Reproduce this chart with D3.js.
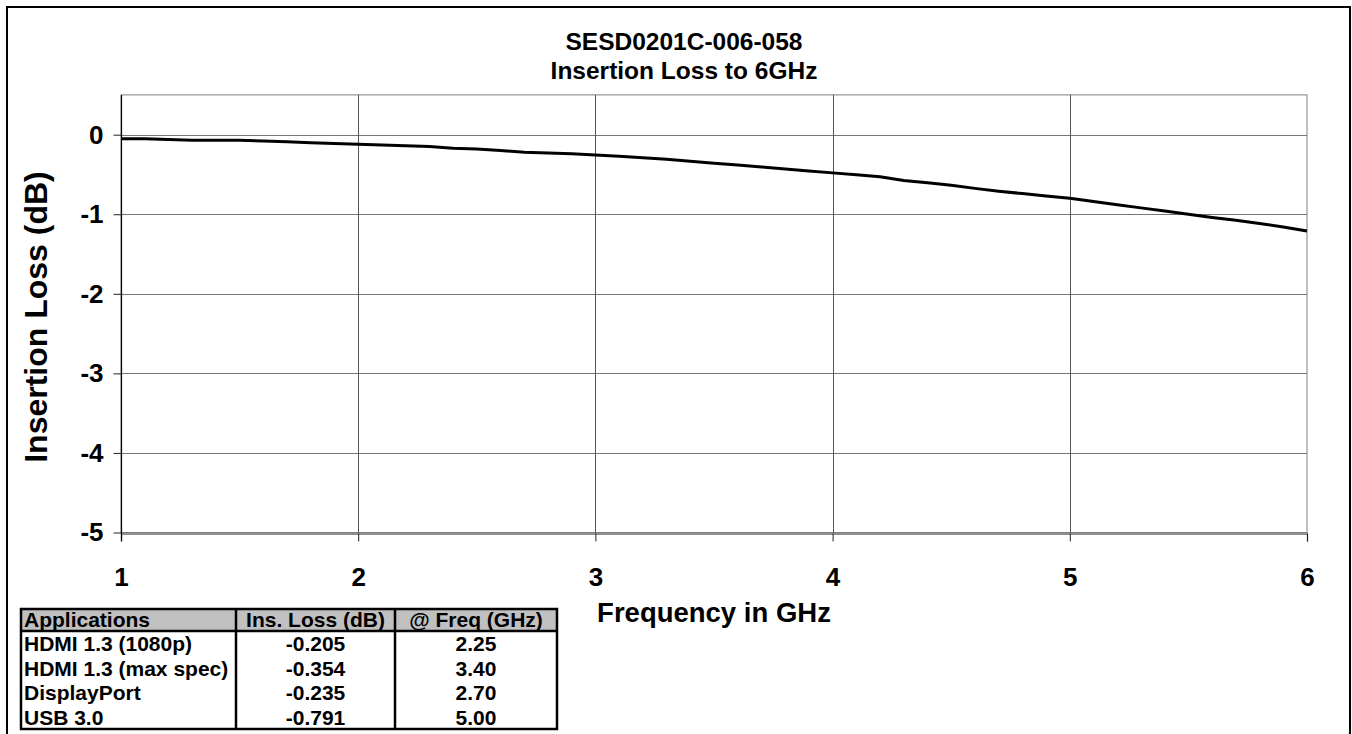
<!DOCTYPE html>
<html><head><meta charset="utf-8">
<script src="https://cdn.jsdelivr.net/npm/d3@7"></script>
<style>html,body{margin:0;padding:0;background:#fff;}svg{display:block;font-family:"Liberation Sans",Arial,sans-serif;}</style>
</head><body>
<svg id="chart" width="1352" height="734"></svg>
<script>
const titleLines = ["SESD0201C-006-058", "Insertion Loss to 6GHz"];
const xTicks = [1, 2, 3, 4, 5, 6];
const yTicks = [0, -1, -2, -3, -4, -5];
const freqGHz = [1.0,1.1,1.2,1.3,1.4,1.5,1.6,1.7,1.8,1.9,2.0,2.1,2.2,2.3,2.4,2.5,2.6,2.7,2.8,2.9,3.0,3.1,3.2,3.3,3.4,3.5,3.6,3.7,3.8,3.9,4.0,4.1,4.2,4.3,4.4,4.5,4.6,4.7,4.8,4.9,5.0,5.1,5.2,5.3,5.4,5.5,5.6,5.7,5.8,5.9,6.0];
const lossDB = [-0.05,-0.05,-0.06,-0.07,-0.07,-0.07,-0.08,-0.09,-0.10,-0.11,-0.12,-0.13,-0.14,-0.15,-0.17,-0.18,-0.20,-0.22,-0.23,-0.24,-0.255,-0.27,-0.29,-0.31,-0.335,-0.36,-0.38,-0.405,-0.43,-0.455,-0.48,-0.505,-0.53,-0.575,-0.605,-0.635,-0.675,-0.71,-0.74,-0.77,-0.80,-0.84,-0.88,-0.92,-0.96,-1.00,-1.04,-1.075,-1.115,-1.16,-1.21];
const tableHeader = ["Applications", "Ins. Loss (dB)", "@ Freq (GHz)"];
const tableApps = ["HDMI 1.3 (1080p)", "HDMI 1.3 (max spec)", "DisplayPort", "USB 3.0"];
const tableLoss = ["-0.205", "-0.354", "-0.235", "-0.791"];
const tableFreq = ["2.25", "3.40", "2.70", "5.00"];

const svg = d3.select("#chart");
// outer frame
svg.append("rect").attr("x", 7).attr("y", 7).attr("width", 1343).attr("height", 740)
  .attr("fill", "none").attr("stroke", "#000").attr("stroke-width", 2);

const x = d3.scaleLinear().domain([1, 6]).range([121, 1307]);
const y = d3.scaleLinear().domain([-5, 0.5]).range([532.5, 94.9]);

// plot area border
svg.append("rect").attr("x", x(1)).attr("y", y(0.5)).attr("width", x(6) - x(1)).attr("height", y(-5) - y(0.5))
  .attr("fill", "none").attr("stroke", "#808080").attr("stroke-width", 1);

// gridlines
const g = svg.append("g");
g.selectAll("line.h").data(yTicks.filter(d => d > -5)).join("line")
  .attr("x1", x(1)).attr("x2", x(6)).attr("y1", d => Math.round(y(d)) + 0.5).attr("y2", d => Math.round(y(d)) + 0.5)
  .attr("stroke", "#777").attr("stroke-width", 1);
g.selectAll("line.v").data(xTicks.filter(d => d > 1 && d < 6)).join("line")
  .attr("x1", d => Math.round(x(d)) + 0.5).attr("x2", d => Math.round(x(d)) + 0.5).attr("y1", y(0.5)).attr("y2", y(-5))
  .attr("stroke", "#555").attr("stroke-width", 1);

// axes
const tickFont = 26;
const xAxis = d3.axisBottom(x).tickValues(xTicks).tickSize(8).tickFormat(d3.format("d"));
const xg = svg.append("g").attr("transform", `translate(0,${Math.round(y(-5)) + 0.5})`).call(xAxis);
xg.select(".domain").attr("stroke", "#222").attr("stroke-width", 1.2);
xg.selectAll(".tick line").attr("stroke", "#222");
xg.selectAll(".tick text").attr("font-size", tickFont).attr("font-weight", "bold").attr("fill", "#000")
  .attr("font-family", "Liberation Sans, Arial, sans-serif").attr("y", 34).attr("dy", "0.71em");

const yAxis = d3.axisLeft(y).tickValues(yTicks).tickSize(8).tickFormat(d3.format("d"));
const yg = svg.append("g").attr("transform", `translate(${Math.round(x(1)) + 0.5},0)`).call(yAxis);
yg.select(".domain").attr("d", `M0,${y(0.5)}V${y(-5) + 8}`).attr("stroke", "#000").attr("stroke-width", 1.2);
yg.selectAll(".tick line").attr("stroke", "#222");
yg.selectAll(".tick text").attr("font-size", tickFont).attr("font-weight", "bold").attr("fill", "#000")
  .attr("font-family", "Liberation Sans, Arial, sans-serif").attr("x", -18).text(d => d === 0 ? "0" : String(d).replace("−", "-"));

// curve
const line = d3.line().x((d, i) => x(freqGHz[i])).y(d => y(d));
svg.append("path").datum(lossDB).attr("d", line).attr("fill", "none").attr("stroke", "#000").attr("stroke-width", 3)
  .attr("stroke-linejoin", "round");

// titles
svg.append("g").selectAll("text").data(titleLines).join("text")
  .attr("x", 684).attr("y", (d, i) => 50 + i * 29).attr("text-anchor", "middle")
  .attr("font-size", 24.5).attr("font-weight", "bold").text(d => d);

svg.append("text").attr("x", 714).attr("y", 622).attr("text-anchor", "middle")
  .attr("font-size", 27.5).attr("font-weight", "bold").text("Frequency in GHz");
svg.append("text").attr("transform", `translate(47,317) rotate(-90)`).attr("text-anchor", "middle")
  .attr("font-size", 32).attr("font-weight", "bold").text("Insertion Loss (dB)");

// table
const colX = [21, 236, 395, 557];
const tTop = 609, hdrH = 22, rowH = 24.5;
const tBottom = tTop + hdrH + rowH * tableApps.length;
const tg = svg.append("g");
tg.append("rect").attr("x", colX[0]).attr("y", tTop).attr("width", colX[3] - colX[0]).attr("height", hdrH).attr("fill", "#c0c0c0");
tg.append("rect").attr("x", colX[0]).attr("y", tTop).attr("width", colX[3] - colX[0]).attr("height", tBottom - tTop)
  .attr("fill", "none").attr("stroke", "#000").attr("stroke-width", 2.5);
tg.append("line").attr("x1", colX[0]).attr("x2", colX[3]).attr("y1", tTop + hdrH).attr("y2", tTop + hdrH).attr("stroke", "#000").attr("stroke-width", 2.5);
tg.selectAll("line.c").data([colX[1], colX[2]]).join("line").attr("x1", d => d).attr("x2", d => d)
  .attr("y1", tTop).attr("y2", tBottom).attr("stroke", "#000").attr("stroke-width", 2.5);
const fs = 21;
tg.selectAll("text.h").data(tableHeader).join("text")
  .attr("x", (d, i) => i === 0 ? colX[0] + 3 : (colX[i] + colX[i + 1]) / 2)
  .attr("y", tTop + hdrH - 4).attr("text-anchor", (d, i) => i === 0 ? "start" : "middle")
  .attr("font-size", fs).attr("font-weight", "bold").text(d => d);
const rows = tableApps.map((a, i) => [a, tableLoss[i], tableFreq[i]]);
rows.forEach((r, ri) => {
  r.forEach((c, ci) => {
    tg.append("text")
      .attr("x", ci === 0 ? colX[0] + 3 : (colX[ci] + colX[ci + 1]) / 2)
      .attr("y", tTop + hdrH + rowH * ri + 20)
      .attr("text-anchor", ci === 0 ? "start" : "middle")
      .attr("font-size", fs).attr("font-weight", "bold").text(c);
  });
});
</script>
</body></html>
